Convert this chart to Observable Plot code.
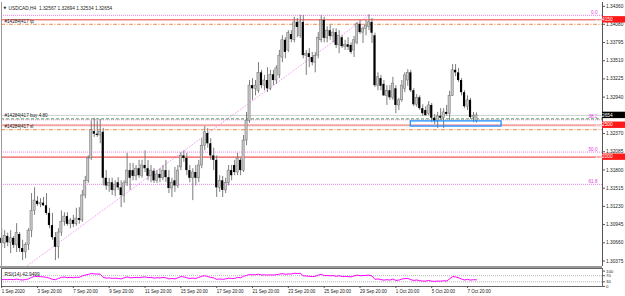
<!DOCTYPE html>
<html><head><meta charset="utf-8">
<script src="https://cdn.jsdelivr.net/npm/d3@7"></script>
<script src="https://cdn.jsdelivr.net/npm/@observablehq/plot@0.6"></script>
<style>
html,body{margin:0;padding:0;background:#fff;}
#wrap{position:relative;width:625px;height:296px;overflow:hidden;background:#fff;}
#main{position:absolute;left:0;top:0;}
#rsi{position:absolute;left:0;top:268px;}
svg{display:block;}
</style></head><body>
<div id="wrap"><div id="main"></div><div id="rsi"></div></div>
<script>
// ---- data (USDCAD, H4) ----
const symbol = "USDCAD,H4";
const opens = [1.3073,1.3065,1.3076,1.3066,1.3073,1.3062,1.3079,1.3057,1.3051,1.3063,1.3085,1.3116,1.3131,1.3126,1.3128,1.3124,1.3112,1.3093,1.3074,1.3059,1.3082,1.3099,1.3107,1.3095,1.3101,1.3095,1.3104,1.3101,1.3140,1.3163,1.3198,1.3240,1.3236,1.3234,1.3239,1.3167,1.3155,1.3160,1.3148,1.3160,1.3152,1.3140,1.3159,1.3179,1.3179,1.3170,1.3182,1.3171,1.3187,1.3182,1.3170,1.3178,1.3163,1.3173,1.3167,1.3179,1.3168,1.3151,1.3163,1.3155,1.3184,1.3202,1.3198,1.3179,1.3167,1.3176,1.3167,1.3187,1.3218,1.3237,1.3221,1.3202,1.3195,1.3152,1.3163,1.3148,1.3160,1.3179,1.3187,1.3176,1.3195,1.3179,1.3226,1.3257,1.3312,1.3307,1.3304,1.3332,1.3312,1.3320,1.3307,1.3329,1.3320,1.3328,1.3356,1.3383,1.3367,1.3392,1.3383,1.3411,1.3390,1.3411,1.3359,1.3362,1.3356,1.3348,1.3359,1.3383,1.3414,1.3386,1.3398,1.3389,1.3395,1.3375,1.3387,1.3373,1.3376,1.3375,1.3367,1.3379,1.3408,1.3395,1.3401,1.3404,1.3411,1.3390,1.3312,1.3323,1.3314,1.3296,1.3304,1.3293,1.3307,1.3281,1.3289,1.3307,1.3320,1.3332,1.3304,1.3282,1.3293,1.3276,1.3273,1.3268,1.3281,1.3261,1.3256,1.3264,1.3261,1.3270,1.3268,1.3296,1.3336,1.3332,1.3320,1.3301,1.3279,1.3289,1.3262,1.32567];
const highs = [1.3088,1.3085,1.3081,1.3085,1.3076,1.3096,1.3082,1.3070,1.3066,1.3088,1.3143,1.3152,1.3138,1.3135,1.3137,1.3143,1.3120,1.3112,1.3082,1.3088,1.3116,1.3113,1.3113,1.3104,1.3109,1.3120,1.3121,1.3148,1.3170,1.3202,1.3257,1.3261,1.3257,1.3259,1.3245,1.3179,1.3167,1.3167,1.3163,1.3168,1.3163,1.3163,1.3206,1.3190,1.3190,1.3187,1.3195,1.3195,1.3210,1.3195,1.3187,1.3182,1.3179,1.3182,1.3187,1.3195,1.3179,1.3167,1.3184,1.3187,1.3207,1.3210,1.3206,1.3187,1.3182,1.3187,1.3195,1.3229,1.3248,1.3245,1.3229,1.3214,1.3202,1.3171,1.3170,1.3167,1.3187,1.3187,1.3195,1.3206,1.3198,1.3234,1.3270,1.3320,1.3323,1.3320,1.3348,1.3336,1.3328,1.3340,1.3336,1.3336,1.3343,1.3367,1.3390,1.3387,1.3398,1.3398,1.3419,1.3417,1.3422,1.3422,1.3367,1.3370,1.3364,1.3364,1.3395,1.3422,1.3419,1.3404,1.3406,1.3401,1.3401,1.3398,1.3390,1.3383,1.3387,1.3379,1.3389,1.3411,1.3414,1.3404,1.3414,1.3423,1.3417,1.3394,1.3332,1.3328,1.3320,1.3312,1.3312,1.3325,1.3312,1.3292,1.3320,1.3332,1.3337,1.3336,1.3307,1.3298,1.3296,1.3282,1.3279,1.3287,1.3284,1.3267,1.3270,1.3276,1.3276,1.3281,1.3303,1.3345,1.3345,1.3339,1.3323,1.3304,1.3296,1.3292,1.3270,1.32694];
const lows = [1.3059,1.3057,1.3060,1.3049,1.3057,1.3051,1.3051,1.3038,1.3041,1.3054,1.3074,1.3109,1.3123,1.3121,1.3123,1.3109,1.3088,1.3070,1.3038,1.3041,1.3076,1.3092,1.3092,1.3088,1.3090,1.3092,1.3095,1.3098,1.3135,1.3159,1.3195,1.3231,1.3231,1.3221,1.3155,1.3148,1.3145,1.3140,1.3138,1.3148,1.3121,1.3128,1.3154,1.3148,1.3163,1.3163,1.3167,1.3167,1.3176,1.3163,1.3160,1.3159,1.3159,1.3160,1.3163,1.3160,1.3143,1.3137,1.3145,1.3151,1.3179,1.3192,1.3171,1.3160,1.3132,1.3155,1.3160,1.3182,1.3210,1.3214,1.3195,1.3179,1.3137,1.3145,1.3137,1.3143,1.3155,1.3163,1.3171,1.3171,1.3171,1.3176,1.3218,1.3253,1.3289,1.3296,1.3300,1.3307,1.3304,1.3301,1.3304,1.3312,1.3314,1.3323,1.3348,1.3354,1.3364,1.3379,1.3379,1.3387,1.3386,1.3354,1.3328,1.3340,1.3343,1.3332,1.3354,1.3379,1.3379,1.3379,1.3383,1.3379,1.3370,1.3362,1.3370,1.3367,1.3367,1.3361,1.3356,1.3376,1.3392,1.3378,1.3390,1.3398,1.3378,1.3309,1.3304,1.3304,1.3295,1.3281,1.3289,1.3289,1.3268,1.3273,1.3286,1.3301,1.3311,1.3301,1.3279,1.3278,1.3273,1.3264,1.3264,1.3265,1.3254,1.3251,1.3245,1.3257,1.3245,1.3264,1.3257,1.3295,1.3326,1.3317,1.3296,1.3276,1.3273,1.3259,1.3254,1.32534];
const closes = [1.3065,1.3077,1.3066,1.3073,1.3062,1.3081,1.3057,1.3051,1.3063,1.3085,1.3116,1.3132,1.3126,1.3128,1.3124,1.3112,1.3093,1.3074,1.3059,1.3082,1.3099,1.3107,1.3095,1.3101,1.3095,1.3104,1.3101,1.3140,1.3163,1.3198,1.3242,1.3236,1.3234,1.3240,1.3167,1.3155,1.3160,1.3148,1.3157,1.3152,1.3140,1.3159,1.3179,1.3167,1.3170,1.3182,1.3171,1.3187,1.3182,1.3170,1.3179,1.3163,1.3173,1.3167,1.3179,1.3168,1.3151,1.3160,1.3155,1.3179,1.3202,1.3198,1.3179,1.3167,1.3176,1.3167,1.3187,1.3218,1.3239,1.3221,1.3202,1.3195,1.3152,1.3163,1.3148,1.3160,1.3179,1.3171,1.3176,1.3198,1.3179,1.3226,1.3257,1.3312,1.3307,1.3312,1.3332,1.3312,1.3320,1.3307,1.3329,1.3320,1.3339,1.3359,1.3383,1.3364,1.3394,1.3384,1.3411,1.3403,1.3411,1.3359,1.3362,1.3356,1.3348,1.3358,1.3387,1.3414,1.3386,1.3398,1.3389,1.3395,1.3375,1.3390,1.3373,1.3376,1.3372,1.3364,1.3383,1.3408,1.3395,1.3401,1.3406,1.3411,1.3394,1.3312,1.3325,1.3311,1.3296,1.3304,1.3293,1.3315,1.3281,1.3289,1.3312,1.3328,1.3332,1.3304,1.3282,1.3293,1.3276,1.3268,1.3265,1.3281,1.3261,1.3256,1.3264,1.3261,1.3270,1.3267,1.3296,1.3336,1.3332,1.3320,1.3301,1.3279,1.3289,1.3262,1.3265,1.32654];
const rsiValues = [44,45,44,46,44,48,44,42,45,49,59,66,64,64,62,59,54,46,44,52,59,61,57,59,57,60,59,69,74,79,84,82,81,80,59,54,56,52,54,52,49,56,62,56,57,59,57,60,62,57,59,54,57,55,59,56,49,52,49,56,64,62,56,52,54,52,59,66,70,64,59,56,46,49,46,49,54,52,52,59,56,66,72,78,76,77,80,74,76,74,76,74,77,80,84,79,82,81,86,84,86,69,68,66,64,66,74,79,70,72,69,71,66,70,64,66,64,62,69,74,70,71,72,74,68,46,49,44,41,44,41,48,39,41,48,51,52,44,39,42,37,35,34,39,34,33,35,34,37,35,49,64,62,56,48,42,46,41,44,42.9499];
const rsiLevels = [70, 30];
const rsiAxisTicks = [100, 70, 30, 0];

const timeTickBars = [0,12,24,36,48,60,72,84,96,108,120,132,144,156];
const timeLabels = ["1 Sep 2020","3 Sep 20:00","7 Sep 20:00","9 Sep 20:00","11 Sep 20:00","15 Sep 20:00","17 Sep 20:00","21 Sep 20:00","23 Sep 20:00","25 Sep 20:00","29 Sep 20:00","1 Oct 20:00","5 Oct 20:00","7 Oct 20:00"];
const priceTicks = [1.34360,1.34080,1.33795,1.33510,1.33225,1.32940,1.32370,1.32085,1.31800,1.31515,1.31230,1.30945,1.30660,1.30375];

const fibHigh = 1.3422, fibLow = 1.2994;
const fibAnchorBars = [-2, 123];
const fibLevels = [0, 38.2, 50, 61.8];

const alertLevels = [1.34150, 1.32500, 1.32000];
const orderLevels = [1.3408, 1.3260, 1.3243];
const orderNames = ["#14284|417 tp", "#14284|417 buy 4.80", "#14284|417 sl"];
const boxBars = [137, 167.4];
const boxPrices = [1.3248, 1.3256];

// ---- build ----
const bars = opens.map((o, i) => ({i, o, h: highs[i], l: lows[i], c: closes[i]}));
const bulls = bars.filter(d => d.c >= d.o);
const bears = bars.filter(d => d.c < d.o);
const last = bars[bars.length - 1];
const fibPrice = lv => fibHigh - (fibHigh - fibLow) * lv / 100;
const FONT = "Liberation Sans, Arial, sans-serif";
const xDomain = [-0.067, 201.2];

const alertStroke = ["#f04040", "#f6a4a4", "#f25555"];
const alertWidth = [1, 2, 1.2];
const orderStroke = ["#f08850", "#4aa84a", "#f08850"];
const orderDash = ["4,1.5,1,1.5", "3,2", "4,1.5,1,1.5"];

const main = Plot.plot({
  width: 625, height: 268,
  marginLeft: 1, marginRight: 23, marginTop: 2, marginBottom: 2,
  x: {domain: xDomain, axis: null},
  y: {domain: [1.30289, 1.34421], axis: null},
  style: {fontFamily: FONT, background: "#fff", color: "#222"},
  marks: [
    Plot.ruleY(fibLevels, {y: fibPrice, stroke: "#f070f0", strokeDasharray: "1,1", strokeOpacity: 0.9}),
    Plot.line(fibAnchorBars.map((b, k) => ({b, p: k ? fibHigh : fibLow})), {x: "b", y: "p", stroke: "#f48cf4", strokeWidth: 0.8, strokeDasharray: "1,2", clip: true}),
    ...alertLevels.map((v, k) => Plot.ruleY([v], {stroke: alertStroke[k], strokeWidth: alertWidth[k]})),
    ...orderLevels.map((v, k) => Plot.ruleY([v], {stroke: orderStroke[k], strokeDasharray: orderDash[k], strokeWidth: 1})),
    Plot.ruleY([last.c], {stroke: "#cfcfcf", strokeWidth: 1}),
    Plot.ruleX(bars, {x: "i", y1: "l", y2: "h", stroke: "#6e6e6e", strokeWidth: 0.9}),
    Plot.rect(bulls, {x1: d => d.i - 0.36, x2: d => d.i + 0.36, y1: "o", y2: "c", fill: "#c8c8c8", stroke: "#6a6a6a", strokeWidth: 0.5}),
    Plot.rect(bears, {x1: d => d.i - 0.36, x2: d => d.i + 0.36, y1: "o", y2: "c", fill: "#000"}),
    Plot.rect([{x1: boxBars[0], x2: boxBars[1], y1: boxPrices[0], y2: boxPrices[1]}], {x1: "x1", x2: "x2", y1: "y1", y2: "y2", fill: "none", stroke: "#1e90ff", strokeWidth: 1.3}),
    Plot.text(fibLevels, {y: fibPrice, text: lv => lv.toFixed(1), frameAnchor: "right", dx: -5, dy: -3, textAnchor: "end", fill: "#e040e0", fontSize: 4.6}),
    Plot.text(orderLevels, {y: d => d, text: (d, i) => orderNames[i], frameAnchor: "left", dx: 3, dy: -3, textAnchor: "start", fill: "#222", fontSize: 4.6}),
    Plot.text([`${symbol}  ${last.o.toFixed(5)} ${last.h.toFixed(5)} ${last.l.toFixed(5)} ${last.c.toFixed(5)}`], {frameAnchor: "top-left", dx: 7, dy: 4, textAnchor: "start", fill: "#222", fontSize: 4.8}),
    Plot.text(["▼"], {frameAnchor: "top-left", dx: 2, dy: 4, textAnchor: "start", fill: "#222", fontSize: 3.5, fontFamily: "DejaVu Sans"}),
    Plot.ruleX([xDomain[0]], {stroke: "#9a9a9a"}),
    Plot.ruleX([xDomain[1]], {stroke: "#555"}),
    Plot.axisY(priceTicks, {anchor: "right", tickSize: 2, tickPadding: 1.5, tickFormat: d => d.toFixed(5), fontSize: 4.8, fill: "#222", stroke: "#555", label: null})
  ]
});
document.getElementById("main").appendChild(main);

// price badges drawn through the y scale
const ys = main.scale("y");
const svgMain = d3.select(main);
const badges = [[alertLevels[0], "#ff1a1a", "#fff"], [alertLevels[1], "#ff1a1a", "#fff"], [alertLevels[2], "#ff1a1a", "#fff"], [last.c, "#000", "#fff"]];
badges.forEach(([v, bg, fg]) => {
  const Y = ys.apply(v);
  const g = svgMain.append("g");
  g.append("rect").attr("x", 602).attr("y", Y - 3.2).attr("width", 23).attr("height", 6.4).attr("fill", bg);
  g.append("text").attr("x", 604).attr("y", Y).attr("dy", "0.35em").attr("font-size", 4.8).attr("font-family", FONT).attr("fill", fg).text(v.toFixed(5));
});
svgMain.append("rect").attr("x", 0).attr("y", 266).attr("width", 602).attr("height", 2).attr("fill", "#9a9a9a");

const rsi = Plot.plot({
  width: 625, height: 28,
  marginLeft: 1, marginRight: 23, marginTop: 0, marginBottom: 10,
  x: {domain: xDomain, axis: null},
  y: {domain: [-0.8, 117.2], axis: null},
  style: {fontFamily: FONT, background: "#fff", color: "#222"},
  marks: [
    Plot.ruleY(rsiLevels, {stroke: "#b8b8b8", strokeDasharray: "1,1"}),
    Plot.line(rsiValues, {x: (d, i) => i, y: d => d, stroke: "#ff00ff", strokeWidth: 1}),
    Plot.frame({stroke: "#666"}),
    Plot.text([`RSI(14) ${rsiValues[rsiValues.length - 1].toFixed(4)}`], {frameAnchor: "top-left", dx: 3, dy: 4, textAnchor: "start", fill: "#222", fontSize: 4.8}),
    Plot.axisY(rsiAxisTicks, {anchor: "right", tickSize: 2, tickPadding: 1.5, tickFormat: d => String(d), fontSize: 4.3, fill: "#222", stroke: "#555", label: null}),
    Plot.axisX(timeTickBars, {anchor: "bottom", tickSize: 2, tickPadding: 1, tickFormat: d => timeLabels[timeTickBars.indexOf(d)], textAnchor: "start", fontSize: 4.5, fill: "#222", stroke: "#555", label: null})
  ]
});
document.getElementById("rsi").appendChild(rsi);
</script>
</body></html>
